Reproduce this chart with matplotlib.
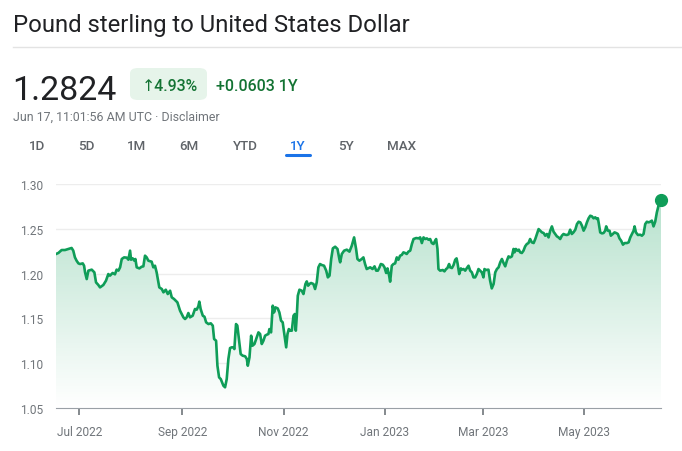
import datetime as dt

import matplotlib
matplotlib.use('Agg')
import matplotlib.pyplot as plt
import matplotlib.dates as mdates
import numpy as np
from matplotlib.patches import FancyBboxPatch, Polygon

plt.rcParams['font.family'] = ['Roboto', 'DejaVu Sans']

# GBP/USD, one year back from Jun 17 2023 (days since start, rate)
start = dt.datetime(2022, 6, 17)
days = [
    0, 1.4, 3.4, 5.4, 7.4, 9.4, 10.4, 11.4, 12.4, 13.5, 14.5, 16.1, 16.9, 17.5, 18.5,
    19.5, 21.5, 23.1, 24.1, 25.5, 26.5, 28.5, 30.1, 31.5, 32.5, 34.1, 35.5, 36.5, 37.6,
    38.6, 39.6, 41.0, 42.6, 43.6, 44.6, 45.2, 46.2, 47.2, 47.8, 48.6, 50.2, 51.6, 52.6,
    53.6, 54.6, 55.6, 57.6, 58.6, 59.6, 60.6, 62.2, 63.7, 64.7, 66.1, 67.3, 68.7, 69.7,
    71.1, 72.1, 73.1, 74.7, 76.7, 77.7, 78.7, 79.7, 80.7, 82.3, 83.7, 84.7, 85.7, 86.3,
    87.1, 88.4, 89.4, 90.4, 91.8, 93.2, 94.4, 95.2, 96.4, 97.2, 98.2, 99.2, 100.8, 101.8,
    102.8, 103.8, 104.8, 105.8, 106.8, 107.4, 108.4, 109.2, 110.4, 111.2, 112.4, 113.9,
    114.9, 115.5, 116.5, 117.5, 118.3, 119.5, 120.9, 121.9, 122.9, 123.9, 124.9, 125.9,
    126.9, 127.9, 128.5, 129.5, 130.5, 131.3, 132.1, 133.5, 134.5, 135.5, 136.5, 137.6,
    138.6, 139.4, 140.2, 141.0, 142.0, 143.0, 143.8, 144.4, 145.0, 145.6, 146.6, 148.0,
    149.0, 150.2, 151.0, 151.8, 152.6, 153.6, 155.0, 156.0, 157.0, 158.0, 159.0, 160.0,
    161.4, 162.7, 163.7, 164.7, 165.7, 166.7, 168.1, 169.5, 170.7,
    171.1, 172.1, 173.5, 175.1, 176.7, 178.1, 179.5, 180.7, 181.5, 182.7, 184.1, 185.1,
    186.1, 187.1, 189.2, 190.6, 191.8, 192.8, 193.8, 194.8, 195.6, 196.8, 197.8, 198.8,
    199.6, 200.6, 201.2, 201.8, 202.2, 203.2, 204.2, 205.2, 206.2, 207.2, 208.2, 209.2,
    210.2, 211.2, 212.2, 213.3, 214.3, 215.3, 216.9, 218.3, 219.3, 220.3, 221.3, 222.3,
    223.3, 224.3, 225.3, 226.3, 227.3, 228.3, 228.9, 229.7, 230.3, 231.3, 232.9, 233.9,
    234.9, 235.7, 236.7, 237.3, 238.4, 239.4, 240.4, 241.2, 241.8, 242.8, 243.8, 244.4,
    245.4, 246.4, 247.4, 248.4, 249.4, 250.4, 251.4, 252.4, 253.4, 254.4, 255.4, 256.4,
    257.4, 258.0, 258.8, 260.4, 261.4, 262.4, 263.5, 264.5, 265.5, 266.5, 267.5, 268.5,
    269.5, 270.5, 271.5, 272.5, 273.5, 274.5, 275.5, 276.1, 276.9, 277.9, 278.7, 279.5,
    280.5, 281.5, 282.5, 283.5, 284.5, 285.5, 286.5, 287.6, 288.6, 289.6, 290.6, 291.6,
    292.6, 293.6, 294.6, 295.6, 296.6, 297.6, 298.6, 299.6, 300.6, 301.6, 302.6, 303.6,
    304.6, 305.6, 306.6, 307.6, 308.6, 309.6, 310.6, 311.6, 312.7, 313.7, 314.7, 315.7,
    316.7, 317.7, 318.7, 319.7, 320.7, 321.7, 322.7, 323.7, 324.7, 325.7, 326.3, 326.9,
    327.7, 328.7, 329.7, 330.7, 331.3, 332.3, 333.3, 334.1, 335.3, 336.3, 337.3, 338.3,
    339.3, 340.3, 341.4, 342.4, 343.8, 344.8, 345.8, 346.8, 347.8, 348.4, 349.2, 350.4,
    351.8, 352.8, 353.8, 354.8, 355.8, 356.8, 357.8, 358.8, 359.8, 360.8, 361.8, 362.8,
    363.9, 364.3,
]
rate = [
    1.2219, 1.2230, 1.2263, 1.2263, 1.2275, 1.2286, 1.2256, 1.2181, 1.2144, 1.2114, 1.2107,
    1.2114, 1.2088, 1.2014, 1.1939, 1.2033, 1.2044, 1.2014, 1.1902, 1.1873, 1.1846, 1.1873,
    1.1921, 1.1995, 1.1977, 1.2007, 1.1992, 1.2044, 1.2033, 1.2070, 1.2163, 1.2181, 1.2178,
    1.2155, 1.2256, 1.2155, 1.2170, 1.2144, 1.2163, 1.2070, 1.2058, 1.2077, 1.2081, 1.2200,
    1.2181, 1.2144, 1.2133, 1.2070, 1.2088, 1.2014, 1.1846, 1.1828, 1.1791, 1.1820, 1.1772,
    1.1809, 1.1735, 1.1716, 1.1698, 1.1679, 1.1586, 1.1512, 1.1493, 1.1512, 1.1560, 1.1512,
    1.1530, 1.1605, 1.1597, 1.1635, 1.1687, 1.1605, 1.1530, 1.1519, 1.1456, 1.1437, 1.1445,
    1.1419, 1.1270, 1.1251, 1.0972, 1.0842, 1.0823, 1.0749, 1.0731, 1.0823, 1.1047, 1.1169,
    1.1177, 1.1177, 1.1158, 1.1437, 1.1419, 1.1233, 1.1102, 1.1084, 1.1077, 1.1047, 1.0972,
    1.1065, 1.1307, 1.1195, 1.1214, 1.1288, 1.1344, 1.1326, 1.1214, 1.1251, 1.1307, 1.1318,
    1.1326, 1.1381, 1.1344, 1.1642, 1.1567, 1.1623, 1.1612, 1.1567, 1.1475, 1.1456, 1.1307,
    1.1177, 1.1326, 1.1381, 1.1363, 1.1363, 1.1530, 1.1549, 1.1363, 1.1530, 1.1753, 1.1820,
    1.1809, 1.1772, 1.1884, 1.1913, 1.1865, 1.1884, 1.1895, 1.1884, 1.1828, 1.1902, 1.2070,
    1.2107, 1.2096, 1.2088, 1.2033, 1.1958, 1.1977, 1.2163, 1.2282, 1.2300, 1.2275, 1.2155,
    1.2126, 1.2219, 1.2256, 1.2267, 1.2245, 1.2311, 1.2404, 1.2275, 1.2163, 1.2144, 1.2163,
    1.2181, 1.2107, 1.2051, 1.2070, 1.2051, 1.2081, 1.2033, 1.2033, 1.2070, 1.2107, 1.2099,
    1.2070, 1.2007, 1.2058, 1.1977, 1.1910, 1.2014, 1.2088, 1.2107, 1.2114, 1.2181, 1.2155,
    1.2200, 1.2208, 1.2237, 1.2230, 1.2219, 1.2245, 1.2256, 1.2330, 1.2386, 1.2397, 1.2393,
    1.2404, 1.2341, 1.2404, 1.2386, 1.2393, 1.2378, 1.2386, 1.2341, 1.2330, 1.2367, 1.2386,
    1.2275, 1.2051, 1.2033, 1.2040, 1.2025, 1.2051, 1.2062, 1.2107, 1.2070, 1.2062, 1.2096,
    1.2155, 1.2170, 1.2114, 1.1995, 1.2058, 1.2044, 1.2051, 1.2033, 1.2062, 1.2088, 1.2033,
    1.2014, 1.1958, 1.1958, 1.1995, 1.2051, 1.2033, 1.2014, 1.1958, 1.2051, 1.2040, 1.2044,
    1.1921, 1.1835, 1.1884, 1.2014, 1.2051, 1.2070, 1.2126, 1.2163, 1.2118, 1.2081, 1.2144,
    1.2192, 1.2181, 1.2192, 1.2275, 1.2237, 1.2275, 1.2256, 1.2267, 1.2237, 1.2230, 1.2256,
    1.2304, 1.2330, 1.2341, 1.2386, 1.2349, 1.2341, 1.2386, 1.2442, 1.2497, 1.2479, 1.2460,
    1.2453, 1.2423, 1.2442, 1.2404, 1.2479, 1.2527, 1.2468, 1.2442, 1.2416, 1.2404, 1.2386,
    1.2423, 1.2442, 1.2434, 1.2431, 1.2438, 1.2490, 1.2442, 1.2460, 1.2490, 1.2553, 1.2579,
    1.2572, 1.2535, 1.2479, 1.2516, 1.2572, 1.2617, 1.2646, 1.2639, 1.2617, 1.2628, 1.2609,
    1.2617, 1.2553, 1.2460, 1.2449, 1.2453, 1.2479, 1.2527, 1.2479, 1.2479, 1.2423, 1.2442,
    1.2460, 1.2453, 1.2442, 1.2393, 1.2367, 1.2323, 1.2341, 1.2341, 1.2349, 1.2404, 1.2442,
    1.2479, 1.2527, 1.2460, 1.2431, 1.2434, 1.2423, 1.2442, 1.2553, 1.2579, 1.2572, 1.2579,
    1.2591, 1.2527, 1.2579, 1.2683, 1.2758, 1.2825, 1.2824,
]
yticks = [1.05, 1.10, 1.15, 1.20, 1.25, 1.30]
ranges = ['1D', '5D', '1M', '6M', 'YTD', '1Y', '5Y', 'MAX']
selected = '1Y'

price = '1.2824'
pct = '↑4.93%'
change = '+0.0603 1Y'
stamp = 'Jun 17, 11:01:56 AM UTC · Disclaimer'

GREEN = '#0f9d58'
DARK_GREEN = '#137333'
GREY = '#70757a'
W, H = 682, 452

fig = plt.figure(figsize=(W / 100, H / 100), dpi=100)


def px(x, y):
    return x / W, 1 - y / H


# header
fig.text(*px(13, 32), 'Pound sterling to United States Dollar', fontsize=17.2,
         color='#202124', va='baseline')
fig.add_artist(plt.Line2D([13 / W, 1], [1 - 48 / H] * 2, color='#e3e3e3', lw=1))
fig.text(*px(12, 100), price, fontsize=24.5, color='#202124', va='baseline')
badge = FancyBboxPatch(px(130, 101), 77 / W, 32 / H,
                       boxstyle='round,pad=0,rounding_size=0.012',
                       transform=fig.transFigure, fc='#e6f4ea', ec='none')
fig.add_artist(badge)
fig.text(*px(169.5, 91), pct, fontsize=11.4, color=DARK_GREEN, va='baseline',
         ha='center', fontweight='medium')
fig.text(*px(216, 91), change, fontsize=11.5, color=DARK_GREEN, va='baseline',
         fontweight='medium')
fig.text(*px(13, 121), stamp, fontsize=8.9, color=GREY, va='baseline')

tab_x = [37, 86, 137, 189, 245, 298, 346, 402]
for label, x in zip(ranges, tab_x):
    col = '#1a73e8' if label == selected else '#5f6368'
    fig.text(*px(x, 150), label, fontsize=9.6, color=col, va='baseline', ha='center',
             fontweight='medium')
    if label == selected:
        fig.add_artist(plt.Line2D([(x - 12) / W, (x + 12) / W], [1 - 155.5 / H] * 2,
                                  color=col, lw=2.2, solid_capstyle='round'))

# chart
ax = fig.add_axes([56 / W, 1 - 409 / H, 605 / W, 224 / H])
dates = [start + dt.timedelta(days=d) for d in days]
xs = mdates.date2num(dates)
ys = np.array(rate)

ax.set_xlim(xs[0], xs[-1])
ax.set_ylim(1.05, 1.30)

# gradient fill under the line
grad = np.linspace(0.30, 0.0, 256).reshape(-1, 1)
cmap = matplotlib.colors.LinearSegmentedColormap.from_list(
    'g', [(1, 1, 1, 1), (0.06, 0.62, 0.35, 1)])
img = ax.imshow(grad, aspect='auto', cmap=cmap, vmin=0, vmax=1,
                extent=[xs[0], xs[-1], 1.05, ys.max()], origin='upper', zorder=1)
poly = Polygon(np.column_stack([np.r_[xs[0], xs, xs[-1]], np.r_[1.05, ys, 1.05]]),
               closed=True, transform=ax.transData, fc='none', ec='none')
ax.add_patch(poly)
img.set_clip_path(poly)

ax.plot(xs, ys, color=GREEN, lw=1.9, zorder=3, solid_joinstyle='round')
ax.plot(xs[-1], ys[-1], 'o', color=GREEN, ms=8.5, zorder=4, clip_on=False)

ax.set_yticks(yticks)
ax.set_yticklabels([f'{v:.2f}' for v in yticks])
ax.grid(axis='y', color='#ededed', lw=1)
ax.set_axisbelow(True)
ax.xaxis.set_major_locator(mdates.MonthLocator(bymonth=[1, 3, 5, 7, 9, 11]))
ax.xaxis.set_major_formatter(mdates.DateFormatter('%b %Y'))

for s in ['top', 'right', 'left']:
    ax.spines[s].set_visible(False)
ax.spines['bottom'].set_color('#9aa0a6')
ax.tick_params(axis='y', length=0, pad=9, labelsize=8.6, labelcolor=GREY)
ax.tick_params(axis='x', length=5, width=1.2, color='#70757a', pad=7,
               labelsize=8.6, labelcolor=GREY)
ax.set_facecolor('none')

fig.savefig('out.png', dpi=100)
